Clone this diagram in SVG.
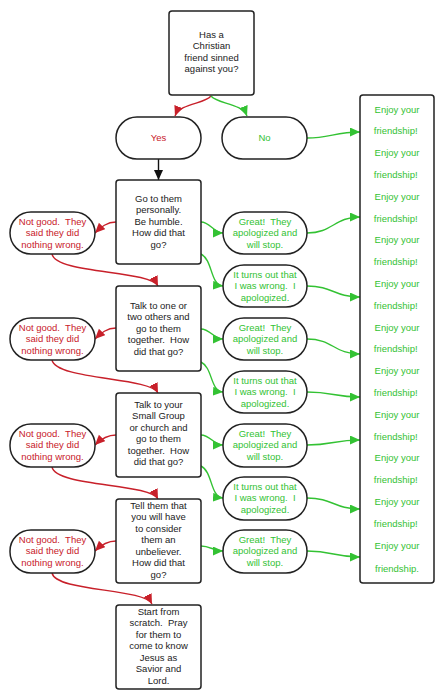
<svg xmlns="http://www.w3.org/2000/svg" width="445" height="700" viewBox="0 0 445 700">
<defs>
<style>
.box{fill:#fff;stroke:#222;stroke-width:1.5}
.t{font-family:"Liberation Sans",Arial,sans-serif;font-size:9.5px;text-anchor:middle}
.k{fill:#222}
.r{fill:#c8202a}
.g{fill:#33c233}
.cr{fill:none;stroke:#c8202a;stroke-width:1.4}
.cg{fill:none;stroke:#33c233;stroke-width:1.4}
.ck{fill:none;stroke:#111;stroke-width:1.4}
</style>
<marker id="ar" markerUnits="userSpaceOnUse" markerWidth="11" markerHeight="10" refX="10" refY="4.5" orient="auto"><path d="M0,0 L10,4.5 L0,9 Z" fill="#c8202a"/></marker>
<marker id="ag" markerUnits="userSpaceOnUse" markerWidth="11" markerHeight="10" refX="10" refY="4.5" orient="auto"><path d="M0,0 L10,4.5 L0,9 Z" fill="#33c233"/></marker>
<marker id="ak" markerUnits="userSpaceOnUse" markerWidth="11" markerHeight="10" refX="10" refY="4.5" orient="auto"><path d="M0,0 L10,4.5 L0,9 Z" fill="#111"/></marker>
</defs>
<rect width="445" height="700" fill="#fff"/>
<g id="connectors">
<path class="cr" marker-end="url(#ar)" d="M211,96 C205,104 180,103 175,116"/>
<path class="cg" marker-end="url(#ag)" d="M211,96 C217,104 242,103 247,116"/>
<path class="ck" marker-end="url(#ak)" d="M158.5,159 L158.5,180"/>
<path class="cg" marker-end="url(#ag)" d="M307,138 C330,138 335,132 360,132"/>
<path class="cr" marker-end="url(#ar)" d="M116,222 C107,222 101,227 95,233"/>
<path class="cg" marker-end="url(#ag)" d="M201,222 C210,222 214,233 223,233"/>
<path class="cg" marker-end="url(#ag)" d="M201,254 C213,260 210,285 223,286"/>
<path class="cr" marker-end="url(#ar)" d="M52,254 C56,274 150,270 158,286"/>
<path class="cr" marker-end="url(#ar)" d="M116,328 C107,328 101,333 95,339"/>
<path class="cg" marker-end="url(#ag)" d="M201,329 C210,329 214,339 223,339"/>
<path class="cg" marker-end="url(#ag)" d="M201,362 C213,368 210,391 223,392"/>
<path class="cr" marker-end="url(#ar)" d="M52,360 C56,380 150,377 158,393"/>
<path class="cr" marker-end="url(#ar)" d="M116,435 C107,435 101,439 95,445"/>
<path class="cg" marker-end="url(#ag)" d="M201,435 C210,435 214,445 223,445"/>
<path class="cg" marker-end="url(#ag)" d="M201,466 C213,472 210,497 223,498"/>
<path class="cr" marker-end="url(#ar)" d="M52,467 C56,487 150,483 158,499"/>
<path class="cr" marker-end="url(#ar)" d="M116,541 C107,541 101,545 95,551"/>
<path class="cg" marker-end="url(#ag)" d="M201,546 C210,546 214,551 223,551"/>
<path class="cr" marker-end="url(#ar)" d="M52,573 C56,592 144,588 152,604"/>
<path class="cg" marker-end="url(#ag)" d="M307,233 C333,233 334,217 360,217"/>
<path class="cg" marker-end="url(#ag)" d="M307,286 C333,286 334,297 360,297"/>
<path class="cg" marker-end="url(#ag)" d="M307,339 C333,339 334,354 360,354"/>
<path class="cg" marker-end="url(#ag)" d="M307,392 C333,392 334,397 360,397"/>
<path class="cg" marker-end="url(#ag)" d="M307,445 C333,445 334,440 360,440"/>
<path class="cg" marker-end="url(#ag)" d="M307,498 C333,498 334,509 360,509"/>
<path class="cg" marker-end="url(#ag)" d="M307,551 C333,551 334,557 360,557"/>
</g>
<g id="start">
<rect class="box" x="169" y="11" width="85" height="84" rx="3"/>
<text class="t k" x="211.5" y="37.5"><tspan x="211.5">Has a</tspan><tspan x="211.5" dy="11.5">Christian</tspan><tspan x="211.5" dy="11.5">friend sinned</tspan><tspan x="211.5" dy="11.5">against you?</tspan></text>
</g>
<g id="yes">
<rect class="box" x="116" y="117" width="85" height="42" rx="21"/>
<text class="t r" x="158.5" y="141">Yes</text>
</g>
<g id="no">
<rect class="box" x="222" y="117" width="85" height="42" rx="21"/>
<text class="t g" x="264.5" y="141">No</text>
</g>
<g id="enjoy">
<rect class="box" x="360" y="95" width="74" height="488" rx="3"/>
<text class="t g">
<tspan x="397" y="112.5">Enjoy your</tspan><tspan x="397" y="134.3">friendship!</tspan>
<tspan x="397" y="156.1">Enjoy your</tspan><tspan x="397" y="177.9">friendship!</tspan>
<tspan x="397" y="199.7">Enjoy your</tspan><tspan x="397" y="221.5">friendship!</tspan>
<tspan x="397" y="243.3">Enjoy your</tspan><tspan x="397" y="265.1">friendship!</tspan>
<tspan x="397" y="286.9">Enjoy your</tspan><tspan x="397" y="308.7">friendship!</tspan>
<tspan x="397" y="330.5">Enjoy your</tspan><tspan x="397" y="352.3">friendship!</tspan>
<tspan x="397" y="374.1">Enjoy your</tspan><tspan x="397" y="395.9">friendship!</tspan>
<tspan x="397" y="417.7">Enjoy your</tspan><tspan x="397" y="439.5">friendship!</tspan>
<tspan x="397" y="461.3">Enjoy your</tspan><tspan x="397" y="483.1">friendship!</tspan>
<tspan x="397" y="504.9">Enjoy your</tspan><tspan x="397" y="526.7">friendship!</tspan>
<tspan x="397" y="548.5">Enjoy your</tspan><tspan x="397" y="572">friendship.</tspan>
</text>
</g>
<g id="step1">
<rect class="box" x="116" y="180" width="85" height="84" rx="3"/>
<text class="t k"><tspan x="158.5" y="201.5">Go to them</tspan><tspan x="158.5" dy="11.5">personally.</tspan><tspan x="158.5" dy="11.5">Be humble.</tspan><tspan x="158.5" dy="11.5">How did that</tspan><tspan x="158.5" dy="11.5">go?</tspan></text>
</g>
<g id="step2">
<rect class="box" x="116" y="286" width="85" height="85" rx="3"/>
<text class="t k"><tspan x="158.5" y="308.5">Talk to one or</tspan><tspan x="158.5" dy="11.5">two others and</tspan><tspan x="158.5" dy="11.5">go to them</tspan><tspan x="158.5" dy="11.5">together.&#160; How</tspan><tspan x="158.5" dy="11.5">did that go?</tspan></text>
</g>
<g id="step3">
<rect class="box" x="116" y="393" width="85" height="84" rx="3"/>
<text class="t k"><tspan x="158.5" y="407.5">Talk to your</tspan><tspan x="158.5" dy="11.5">Small Group</tspan><tspan x="158.5" dy="11.5">or church and</tspan><tspan x="158.5" dy="11.5">go to them</tspan><tspan x="158.5" dy="11.5">together.&#160; How</tspan><tspan x="158.5" dy="11.5">did that go?</tspan></text>
</g>
<g id="step4">
<rect class="box" x="116" y="499" width="85" height="84" rx="3"/>
<text class="t k"><tspan x="158.5" y="508.5">Tell them that</tspan><tspan x="158.5" dy="11.5">you will have</tspan><tspan x="158.5" dy="11.5">to consider</tspan><tspan x="158.5" dy="11.5">them an</tspan><tspan x="158.5" dy="11.5">unbeliever.</tspan><tspan x="158.5" dy="11.5">How did that</tspan><tspan x="158.5" dy="11.5">go?</tspan></text>
</g>
<g id="step5">
<rect class="box" x="116" y="605" width="85" height="84" rx="3"/>
<text class="t k"><tspan x="158.5" y="614.5">Start from</tspan><tspan x="158.5" dy="11.5">scratch.&#160; Pray</tspan><tspan x="158.5" dy="11.5">for them to</tspan><tspan x="158.5" dy="11.5">come to know</tspan><tspan x="158.5" dy="11.5">Jesus as</tspan><tspan x="158.5" dy="11.5">Savior and</tspan><tspan x="158.5" dy="11.5">Lord.</tspan></text>
</g>
<g id="bad1">
<rect class="box" x="10" y="212" width="85" height="42" rx="21"/>
<text class="t r"><tspan x="52.5" y="224.5">Not good.&#160; They</tspan><tspan x="52.5" dy="11.5">said they did</tspan><tspan x="52.5" dy="11.5">nothing wrong.</tspan></text>
</g>
<g id="bad2">
<rect class="box" x="10" y="318" width="85" height="42" rx="21"/>
<text class="t r"><tspan x="52.5" y="330.5">Not good.&#160; They</tspan><tspan x="52.5" dy="11.5">said they did</tspan><tspan x="52.5" dy="11.5">nothing wrong.</tspan></text>
</g>
<g id="bad3">
<rect class="box" x="10" y="424" width="85" height="43" rx="21"/>
<text class="t r"><tspan x="52.5" y="436.5">Not good.&#160; They</tspan><tspan x="52.5" dy="11.5">said they did</tspan><tspan x="52.5" dy="11.5">nothing wrong.</tspan></text>
</g>
<g id="bad4">
<rect class="box" x="10" y="530" width="85" height="43" rx="21"/>
<text class="t r"><tspan x="52.5" y="542.5">Not good.&#160; They</tspan><tspan x="52.5" dy="11.5">said they did</tspan><tspan x="52.5" dy="11.5">nothing wrong.</tspan></text>
</g>
<g id="great1">
<rect class="box" x="223" y="212" width="84" height="42" rx="21"/>
<text class="t g"><tspan x="265" y="224.5">Great!&#160; They</tspan><tspan x="265" dy="11.5">apologized and</tspan><tspan x="265" dy="11.5">will stop.</tspan></text>
</g>
<g id="wrong1">
<rect class="box" x="223" y="265" width="84" height="42" rx="21"/>
<text class="t g"><tspan x="265" y="277.5">It turns out that</tspan><tspan x="265" dy="11.5">I was wrong.&#160; I</tspan><tspan x="265" dy="11.5">apologized.</tspan></text>
</g>
<g id="great2">
<rect class="box" x="223" y="318" width="84" height="42" rx="21"/>
<text class="t g"><tspan x="265" y="330.5">Great!&#160; They</tspan><tspan x="265" dy="11.5">apologized and</tspan><tspan x="265" dy="11.5">will stop.</tspan></text>
</g>
<g id="wrong2">
<rect class="box" x="223" y="371" width="84" height="42" rx="21"/>
<text class="t g"><tspan x="265" y="383.5">It turns out that</tspan><tspan x="265" dy="11.5">I was wrong.&#160; I</tspan><tspan x="265" dy="11.5">apologized.</tspan></text>
</g>
<g id="great3">
<rect class="box" x="223" y="424" width="84" height="43" rx="21"/>
<text class="t g"><tspan x="265" y="436.5">Great!&#160; They</tspan><tspan x="265" dy="11.5">apologized and</tspan><tspan x="265" dy="11.5">will stop.</tspan></text>
</g>
<g id="wrong3">
<rect class="box" x="223" y="477" width="84" height="43" rx="21"/>
<text class="t g"><tspan x="265" y="489.5">It turns out that</tspan><tspan x="265" dy="11.5">I was wrong.&#160; I</tspan><tspan x="265" dy="11.5">apologized.</tspan></text>
</g>
<g id="great4">
<rect class="box" x="223" y="530" width="84" height="43" rx="21"/>
<text class="t g"><tspan x="265" y="542.5">Great!&#160; They</tspan><tspan x="265" dy="11.5">apologized and</tspan><tspan x="265" dy="11.5">will stop.</tspan></text>
</g>
</svg>
